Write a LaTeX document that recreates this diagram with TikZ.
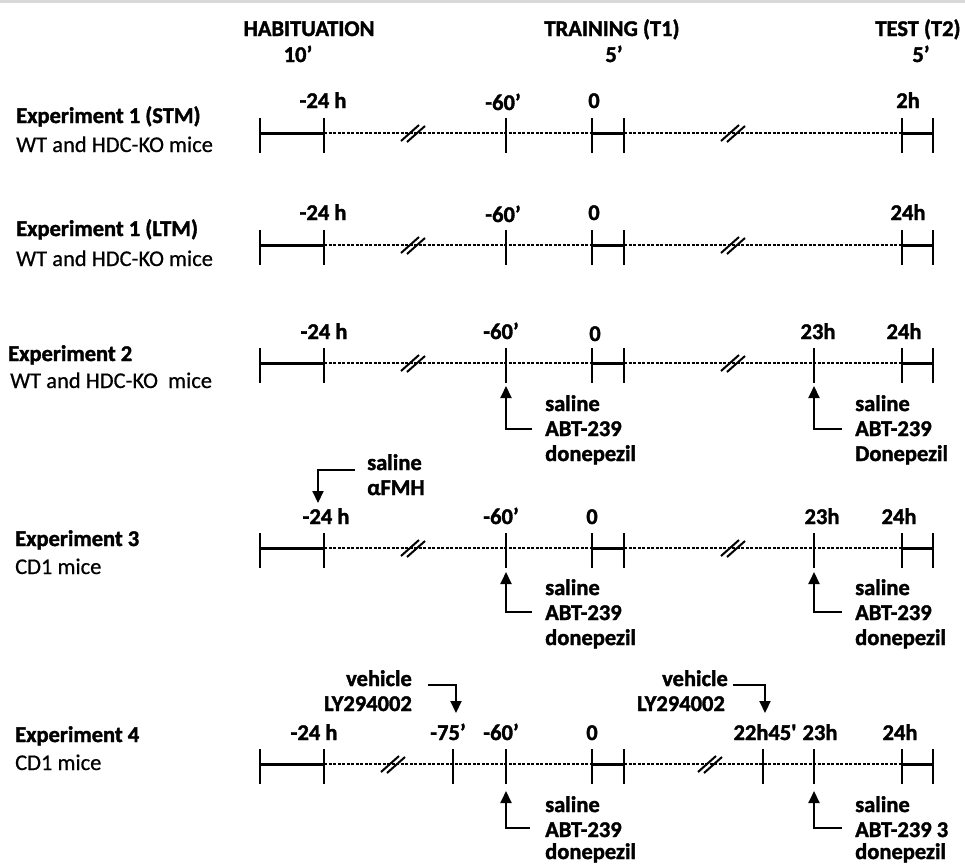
\documentclass[tikz,border=0pt]{standalone}
\usepackage{fontspec}
\setmainfont{Carlito}[Ligatures=TeXOff, UprightFeatures={FakeBold=0.6}, BoldFeatures={FakeBold=1.6}]
\usetikzlibrary{arrows.meta}
\tikzset{
  solidseg/.style={line width=3pt},
  dotseg/.style={line width=2.5pt, dash pattern=on 3pt off 1.5pt},
  tickmark/.style={line width=2.8pt},
  brk/.style={line width=2pt},
  arr/.style={line width=2pt, -{Triangle[width=11pt,length=12pt]}},
  lbl/.style={font=\bfseries\fontsize{22.5}{27}\selectfont, inner sep=0pt},
  sublbl/.style={font=\fontsize{22.5}{27}\selectfont, inner sep=0pt},
  tlab/.style={lbl, anchor=base},
  drug/.style={lbl, anchor=base west},
  drugr/.style={lbl, anchor=base east},
}
\newcommand\tlrow[4]{%
  \foreach \xx/\nm in {260/a,324/b,506/c,592/d,624/e,902/f,933/g}{\coordinate (#1\nm) at (\xx,#2);}
  \draw[solidseg] (#1a) -- (#1b);
  \draw[solidseg] (#1d) -- (#1e);
  \draw[solidseg] (#1f) -- (#1g);
  \draw[dotseg] (#1b) -- (#1d);
  \draw[dotseg] (#1e) -- (#1f);
  \foreach \nm in {a,b,c,d,e,f,g}{\draw[tickmark] (#1\nm) ++(0,-15) -- ++(0,35);}
  \draw[brk] (#3,#2) ++(-12,8) -- ++(18,-16);
  \draw[brk] (#3,#2) ++(-6,9) -- ++(18,-16);
  \draw[brk] (#4,#2) ++(-12,8) -- ++(18,-16);
  \draw[brk] (#4,#2) ++(-6,9) -- ++(18,-16);
}
\begin{document}
\begin{tikzpicture}[x=1pt,y=-1pt]
\useasboundingbox (0,0) rectangle (965,863);
\fill[black!15] (0,0) rectangle (965,3);

% header
\node[tlab] (hab) at (309,36) {HABITUATION};
\node[tlab] (habt) at (298,62) {10’};
\node[tlab] (tra) at (612,36) {TRAINING (T1)};
\node[tlab] (trat) at (614,62) {5’};
\node[tlab] (tst) at (918,36) {TEST (T2)};
\node[tlab] (tstt) at (921,62) {5’};

% ---------- Experiment 1 (STM)
\tlrow{r1}{133}{413}{733}
\node[lbl, anchor=base west] (e1s) at (16,123) {Experiment 1 (STM)};
\node[sublbl, anchor=base west] (e1sm) at (16,152) {WT and HDC-KO mice};
\node[tlab] (r1t24) at (323,108) {-24 h};
\node[tlab] (r1t60) at (503,110) {-60’};
\node[tlab] (r1t0) at (594,108) {0};
\node[tlab] (r1t2) at (908,108) {2h};

% ---------- Experiment 1 (LTM)
\tlrow{r2}{245}{413}{733}
\node[lbl, anchor=base west] (e1l) at (16,236) {Experiment 1 (LTM)};
\node[sublbl, anchor=base west] (e1lm) at (16,266) {WT and HDC-KO mice};
\node[tlab] (r2t24) at (323,220) {-24 h};
\node[tlab] (r2t60) at (503,222) {-60’};
\node[tlab] (r2t0) at (594,220) {0};
\node[tlab] (r2t2) at (908,220) {24h};

% ---------- Experiment 2
\tlrow{r3}{363}{413}{733}
\draw[tickmark] (814,363) ++(0,-15) -- ++(0,35);
\node[lbl, anchor=base west] (e2) at (8,361) {Experiment 2};
\node[sublbl, anchor=base west] (e2m) at (10,388) {WT and HDC-KO\ \ mice};
\node[tlab] (r3t24) at (324,339) {-24 h};
\node[tlab] (r3t60) at (501,339) {-60’};
\node[tlab] (r3t0) at (595,341) {0};
\node[tlab] (r3t23) at (818,339) {23h};
\node[tlab] (r3t24b) at (904,339) {24h};
\coordinate (r3tipL) at (506,386);
\coordinate (r3elL) at (532,429);
\coordinate (r3tipR) at (814,386);
\coordinate (r3elR) at (842,429);
\draw[arr] (r3elL) -| (r3tipL);
\draw[arr] (r3elR) -| (r3tipR);
\node[drug] (r3s1) at (545,411) {saline};
\node[drug] (r3a1) at (545,436) {ABT-239};
\node[drug] (r3d1) at (545,461) {donepezil};
\node[drug] (r3s2) at (855,411) {saline};
\node[drug] (r3a2) at (855,436) {ABT-239};
\node[drug] (r3d2) at (855,461) {Donepezil};

% ---------- Experiment 3
\tlrow{r4}{548}{413}{733}
\draw[tickmark] (814,548) ++(0,-15) -- ++(0,35);
\node[lbl, anchor=base west] (e3) at (15,546) {Experiment 3};
\node[sublbl, anchor=base west] (e3m) at (15,574) {CD1 mice};
\node[tlab] (r4t24) at (326,524) {-24 h};
\node[tlab] (r4t60) at (501,524) {-60’};
\node[tlab] (r4t0) at (592,524) {0};
\node[tlab] (r4t23) at (822,524) {23h};
\node[tlab] (r4t24b) at (899,524) {24h};
\coordinate (r4tipT) at (318,503);
\coordinate (r4elT) at (355,470);
\draw[arr] (r4elT) -| (r4tipT);
\node[drug] (r4sT) at (367,470) {saline};
\node[drug] (r4fT) at (367,495) {αFMH};
\coordinate (r4tipL) at (506,572);
\coordinate (r4elL) at (532,612);
\coordinate (r4tipR) at (814,572);
\coordinate (r4elR) at (842,612);
\draw[arr] (r4elL) -| (r4tipL);
\draw[arr] (r4elR) -| (r4tipR);
\node[drug] (r4s1) at (545,595) {saline};
\node[drug] (r4a1) at (545,620) {ABT-239};
\node[drug] (r4d1) at (545,645) {donepezil};
\node[drug] (r4s2) at (855,595) {saline};
\node[drug] (r4a2) at (855,620) {ABT-239};
\node[drug] (r4d2) at (855,645) {donepezil};

% ---------- Experiment 4
\tlrow{r5}{764}{393}{710}
\foreach \xx in {453,763,814}{\draw[tickmark] (\xx,764) ++(0,-15) -- ++(0,35);}
\node[lbl, anchor=base west] (e4) at (15,742) {Experiment 4};
\node[sublbl, anchor=base west] (e4m) at (15,770) {CD1 mice};
\node[tlab] (r5t24) at (314,740) {-24 h};
\node[tlab] (r5t75) at (448,740) {-75’};
\node[tlab] (r5t60) at (501,740) {-60’};
\node[tlab] (r5t0) at (592,740) {0};
\node[tlab] (r5t2245) at (765,740) {22h45'};
\node[tlab] (r5t23) at (820,740) {23h};
\node[tlab] (r5t24b) at (900,740) {24h};
\node[drugr] (r5v1) at (412,686) {vehicle};
\node[drugr] (r5l1) at (412,711) {LY294002};
\coordinate (r5el1) at (428,685);
\coordinate (r5tip1) at (456,713);
\draw[arr] (r5el1) -| (r5tip1);
\node[drugr] (r5v2) at (728,686) {vehicle};
\node[drugr] (r5l2) at (725,711) {LY294002};
\coordinate (r5el2) at (733,685);
\coordinate (r5tip2) at (765,713);
\draw[arr] (r5el2) -| (r5tip2);
\coordinate (r5tipL) at (506,791);
\coordinate (r5elL) at (530,828);
\coordinate (r5tipR) at (814,791);
\coordinate (r5elR) at (842,828);
\draw[arr] (r5elL) -| (r5tipL);
\draw[arr] (r5elR) -| (r5tipR);
\node[drug] (r5s1) at (545,812) {saline};
\node[drug] (r5a1) at (545,837) {ABT-239};
\node[drug] (r5d1) at (545,859) {donepezil};
\node[drug] (r5s2) at (855,812) {saline};
\node[drug] (r5a2) at (855,837) {ABT-239 3};
\node[drug] (r5d2) at (855,859) {donepezil};
\end{tikzpicture}
\end{document}
